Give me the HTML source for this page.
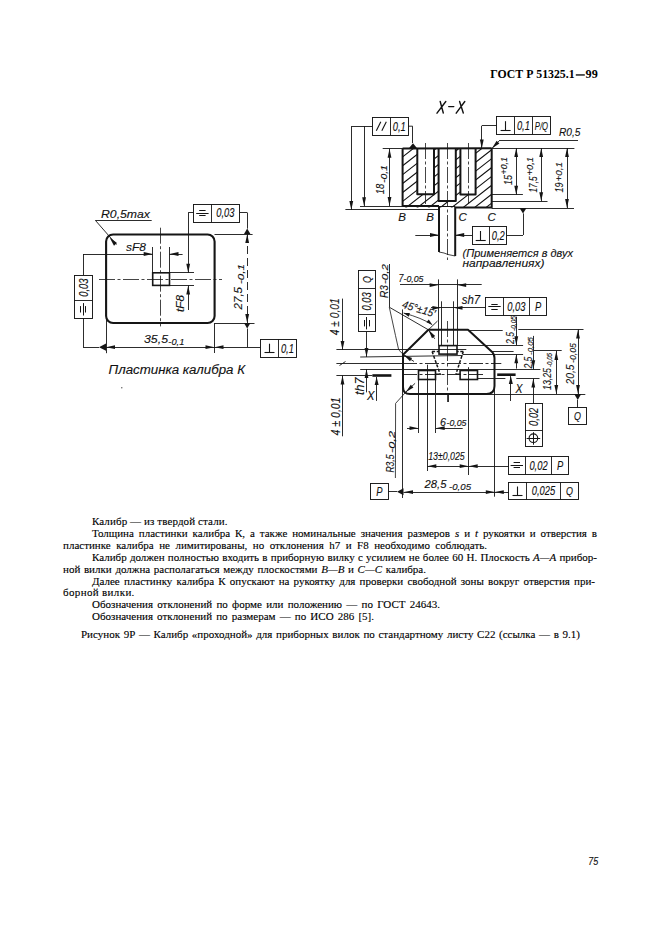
<!DOCTYPE html>
<html><head><meta charset="utf-8">
<style>
html,body{margin:0;padding:0;background:#fff;}
body{width:661px;height:936px;position:relative;overflow:hidden;}
.t{position:absolute;font-family:"Liberation Serif",serif;font-size:11px;color:#000;-webkit-text-stroke:0.12px #000;white-space:nowrap;line-height:12px;}
.j{position:absolute;font-family:"Liberation Serif",serif;font-size:11px;color:#000;-webkit-text-stroke:0.12px #000;text-align:justify;text-align-last:justify;white-space:nowrap;line-height:12px;}
.hdr{position:absolute;left:490px;top:67.5px;font-family:"Liberation Serif",serif;font-weight:bold;font-size:13.8px;color:#000;white-space:nowrap;transform-origin:0 0;transform:scaleX(0.925);}
svg{position:absolute;left:0;top:0;}
.dt{font-family:"Liberation Sans",sans-serif;font-style:italic;fill:#111;stroke:#111;stroke-width:0.12px;}
</style></head><body>

<svg width="661" height="936" viewBox="0 0 661 936">
<rect x="106.1" y="234.5" width="108.5" height="88.5" rx="7" stroke="#151515" stroke-width="2.1" fill="none"/>
<line x1="99" y1="279.5" x2="222" y2="279.5" stroke="#151515" stroke-width="0.8" stroke-dasharray="16 2.5 3 2.5"/>
<line x1="160.5" y1="227.7" x2="160.5" y2="326.4" stroke="#151515" stroke-width="0.8" stroke-dasharray="16 2.5 3 2.5"/>
<rect x="152.7" y="272.8" width="16.80000000000001" height="12.599999999999966" rx="0" stroke="#151515" stroke-width="1.6" fill="none"/>
<line x1="152.5" y1="247" x2="152.5" y2="272.8" stroke="#151515" stroke-width="0.9"/>
<line x1="169.5" y1="247" x2="169.5" y2="272.8" stroke="#151515" stroke-width="0.9"/>
<line x1="83" y1="254.5" x2="152.7" y2="254.5" stroke="#151515" stroke-width="0.9"/>
<polygon points="152.7,254 143.70,255.90 143.70,252.10" fill="#151515" stroke="none"/>
<line x1="169.5" y1="254.5" x2="182.6" y2="254.5" stroke="#151515" stroke-width="0.9"/>
<polygon points="169.5,254 178.50,252.10 178.50,255.90" fill="#151515" stroke="none"/>
<line x1="95.4" y1="220.5" x2="151.7" y2="220.5" stroke="#151515" stroke-width="0.9"/>
<line x1="95.4" y1="220.4" x2="116.5" y2="244.5" stroke="#151515" stroke-width="0.9"/>
<polygon points="109.6,237.6 117.01,243.09 113.99,245.71" fill="#151515" stroke="none"/>
<line x1="83.5" y1="254" x2="83.5" y2="275" stroke="#151515" stroke-width="0.9"/>
<rect x="74.5" y="275.5" width="18.0" height="43.0" rx="0" stroke="#151515" stroke-width="0.95" fill="none"/>
<line x1="74" y1="300.5" x2="92.7" y2="300.5" stroke="#151515" stroke-width="0.9"/>
<line x1="83.5" y1="318.2" x2="83.5" y2="347.2" stroke="#151515" stroke-width="0.9"/>
<line x1="83" y1="347.5" x2="99" y2="347.5" stroke="#151515" stroke-width="0.9"/>
<polygon points="99,347.2 106.00,343.60 106.00,350.80" fill="#151515" stroke="none"/>
<line x1="106.5" y1="318" x2="106.5" y2="353.2" stroke="#151515" stroke-width="0.9"/>
<line x1="214.5" y1="323" x2="214.5" y2="353" stroke="#151515" stroke-width="0.9"/>
<line x1="106" y1="347.5" x2="260.4" y2="347.5" stroke="#151515" stroke-width="0.9"/>
<polygon points="106,347.2 115.00,345.30 115.00,349.10" fill="#151515" stroke="none"/>
<polygon points="214.5,347.2 205.50,349.10 205.50,345.30" fill="#151515" stroke="none"/>
<polygon points="214.5,347.2 223.50,345.30 223.50,349.10" fill="#151515" stroke="none"/>
<line x1="214.5" y1="234.5" x2="252.6" y2="234.5" stroke="#151515" stroke-width="0.9"/>
<line x1="214.5" y1="323.5" x2="254.5" y2="323.5" stroke="#151515" stroke-width="0.9"/>
<line x1="247.5" y1="234" x2="247.5" y2="323" stroke="#151515" stroke-width="0.9" stroke-dasharray="8 4"/>
<polygon points="247.2,234 249.10,243.00 245.30,243.00" fill="#151515" stroke="none"/>
<polygon points="247.2,323 245.30,314.00 249.10,314.00" fill="#151515" stroke="none"/>
<polygon points="247.2,228.6 250.40,234.10 244.00,234.10" fill="#151515" stroke="none"/>
<polygon points="247.2,328.6 244.00,323.10 250.40,323.10" fill="#151515" stroke="none"/>
<line x1="247.5" y1="328.6" x2="247.5" y2="347.2" stroke="#151515" stroke-width="0.9"/>
<rect x="193.5" y="204.5" width="46.0" height="18.0" rx="0" stroke="#151515" stroke-width="0.95" fill="none"/>
<line x1="211.5" y1="204" x2="211.5" y2="222.2" stroke="#151515" stroke-width="0.9"/>
<line x1="193.6" y1="212.5" x2="188.2" y2="212.5" stroke="#151515" stroke-width="0.9"/>
<line x1="188.5" y1="212.6" x2="188.5" y2="272.8" stroke="#151515" stroke-width="0.9"/>
<polygon points="188.2,272.8 186.30,263.80 190.10,263.80" fill="#151515" stroke="none"/>
<line x1="169.5" y1="272.5" x2="194" y2="272.5" stroke="#151515" stroke-width="0.9"/>
<line x1="169.5" y1="285.5" x2="194" y2="285.5" stroke="#151515" stroke-width="0.9"/>
<line x1="188.5" y1="285.4" x2="188.5" y2="310" stroke="#151515" stroke-width="0.9"/>
<polygon points="188.2,285.4 190.10,294.40 186.30,294.40" fill="#151515" stroke="none"/>
<line x1="239.5" y1="212.5" x2="247.2" y2="212.5" stroke="#151515" stroke-width="0.9"/>
<line x1="247.5" y1="212.6" x2="247.5" y2="228.6" stroke="#151515" stroke-width="0.9"/>
<rect x="260.5" y="339.5" width="36.0" height="18.0" rx="0" stroke="#151515" stroke-width="0.95" fill="none"/>
<line x1="278.5" y1="339.1" x2="278.5" y2="357.3" stroke="#151515" stroke-width="0.9"/>
<rect x="372.5" y="117.5" width="36.0" height="18.0" rx="0" stroke="#151515" stroke-width="0.95" fill="none"/>
<line x1="390.5" y1="117.3" x2="390.5" y2="135.3" stroke="#151515" stroke-width="0.9"/>
<line x1="372.3" y1="126.5" x2="351.3" y2="126.5" stroke="#151515" stroke-width="0.9"/>
<line x1="351.5" y1="126.2" x2="351.5" y2="210" stroke="#151515" stroke-width="0.9"/>
<polygon points="351.3,210 349.40,201.00 353.20,201.00" fill="#151515" stroke="none"/>
<line x1="364.5" y1="126.2" x2="364.5" y2="206.3" stroke="#151515" stroke-width="0.9"/>
<polygon points="364.1,206.3 362.20,197.30 366.00,197.30" fill="#151515" stroke="none"/>
<line x1="408.1" y1="126.2" x2="412.6" y2="126.2" stroke="#151515" stroke-width="0.9"/>
<line x1="412.5" y1="126.2" x2="412.5" y2="143" stroke="#151515" stroke-width="0.9"/>
<polygon points="413,143.2 417.30,148.40 408.70,148.40" fill="#151515" stroke="none"/>
<line x1="382.7" y1="148.5" x2="574.4" y2="148.5" stroke="#151515" stroke-width="0.9"/>
<defs><clipPath id="hc"><path d="M402.6,148.7 H417.3 V194.3 H434 V148.7 H438.6 V201.1 H455.8 V148.7 H460.4 V194.5 H475.6 V148.7 H491.7 V207.5 H402.6 Z"/></clipPath></defs>
<path clip-path="url(#hc)" d="M400,105.5 L500,27.5 M400,114.4 L500,36.4 M400,123.3 L500,45.3 M400,132.2 L500,54.2 M400,141.1 L500,63.1 M400,150.0 L500,72.0 M400,158.9 L500,80.9 M400,167.8 L500,89.8 M400,176.7 L500,98.7 M400,185.6 L500,107.6 M400,194.5 L500,116.5 M400,203.4 L500,125.4 M400,212.3 L500,134.3 M400,221.2 L500,143.2 M400,230.1 L500,152.1 M400,239.0 L500,161.0 M400,247.9 L500,169.9 M400,256.8 L500,178.8 M400,265.7 L500,187.7 M400,274.6 L500,196.6 M400,283.5 L500,205.5 M400,292.4 L500,214.4 M400,301.3 L500,223.3 M400,310.2 L500,232.2 M400,319.1 L500,241.1 M400,328.0 L500,250.0 M400,336.9 L500,258.9 M400,345.8 L500,267.8 M400,354.7 L500,276.7 M400,363.6 L500,285.6 M400,372.5 L500,294.5 M400,381.4 L500,303.4 M400,390.3 L500,312.3 M400,399.2 L500,321.2 M400,408.1 L500,330.1 M400,417.0 L500,339.0 M400,425.9 L500,347.9 M400,434.8 L500,356.8 M400,443.7 L500,365.7 M400,452.6 L500,374.6 M400,461.5 L500,383.5 M400,470.4 L500,392.4 M400,479.3 L500,401.3 M400,488.2 L500,410.2 M400,497.1 L500,419.1" stroke="#111" stroke-width="1.1" fill="none"/>
<polyline points="402.6,148.7 402.6,206 439,206" stroke="#151515" stroke-width="2" fill="none" stroke-linejoin="round"/>
<polyline points="417.3,148.7 417.3,194.3 434,194.3 434,148.7" stroke="#151515" stroke-width="2" fill="none" stroke-linejoin="round"/>
<polyline points="438.6,148.7 438.6,201.1 455.8,201.1 455.8,148.7" stroke="#151515" stroke-width="2" fill="none" stroke-linejoin="round"/>
<polyline points="460.4,148.7 460.4,194.5 475.6,194.5 475.6,148.7" stroke="#151515" stroke-width="2" fill="none" stroke-linejoin="round"/>
<polyline points="455,207.5 491.7,207.5 491.7,148.2" stroke="#151515" stroke-width="2" fill="none" stroke-linejoin="round"/>
<line x1="402.6" y1="148.6" x2="491.7" y2="148.2" stroke="#151515" stroke-width="2"/>
<polyline points="439,206 439,252" stroke="#151515" stroke-width="2" fill="none" stroke-linejoin="round"/>
<polyline points="455.2,207 455.2,256" stroke="#151515" stroke-width="2" fill="none" stroke-linejoin="round"/>
<polyline points="439,252 444,253 448,254.5 455.2,256" stroke="#151515" stroke-width="0.8" fill="none" stroke-linejoin="round"/>
<line x1="439" y1="206.5" x2="455.2" y2="206.5" stroke="#151515" stroke-width="1"/>
<line x1="425.5" y1="143" x2="425.5" y2="204" stroke="#151515" stroke-width="0.8" stroke-dasharray="16 2.5 3 2.5"/>
<line x1="447.5" y1="143" x2="447.5" y2="260" stroke="#151515" stroke-width="0.8" stroke-dasharray="16 2.5 3 2.5"/>
<line x1="468.5" y1="143" x2="468.5" y2="204" stroke="#151515" stroke-width="0.8" stroke-dasharray="16 2.5 3 2.5"/>
<line x1="360" y1="206.5" x2="402.6" y2="206.5" stroke="#151515" stroke-width="0.9"/>
<line x1="345.4" y1="209.5" x2="438" y2="209.5" stroke="#151515" stroke-width="0.9"/>
<line x1="491.7" y1="194.5" x2="522.9" y2="194.5" stroke="#151515" stroke-width="0.9"/>
<line x1="491.7" y1="201.5" x2="547.5" y2="201.5" stroke="#151515" stroke-width="0.9"/>
<line x1="491.7" y1="208.5" x2="574" y2="208.5" stroke="#151515" stroke-width="0.9"/>
<line x1="389.5" y1="148.7" x2="389.5" y2="206" stroke="#151515" stroke-width="0.9"/>
<polygon points="389.5,148.7 391.40,157.70 387.60,157.70" fill="#151515" stroke="none"/>
<polygon points="389.5,206 387.60,197.00 391.40,197.00" fill="#151515" stroke="none"/>
<line x1="516.5" y1="148" x2="516.5" y2="194.7" stroke="#151515" stroke-width="0.9"/>
<polygon points="516.2,148 518.10,157.00 514.30,157.00" fill="#151515" stroke="none"/>
<polygon points="516.2,194.7 514.30,185.70 518.10,185.70" fill="#151515" stroke="none"/>
<line x1="541.5" y1="148" x2="541.5" y2="201.2" stroke="#151515" stroke-width="0.9"/>
<polygon points="541.2,148 543.10,157.00 539.30,157.00" fill="#151515" stroke="none"/>
<polygon points="541.2,201.2 539.30,192.20 543.10,192.20" fill="#151515" stroke="none"/>
<line x1="567.5" y1="148" x2="567.5" y2="208" stroke="#151515" stroke-width="0.9"/>
<polygon points="567,148 568.90,157.00 565.10,157.00" fill="#151515" stroke="none"/>
<polygon points="567,208 565.10,199.00 568.90,199.00" fill="#151515" stroke="none"/>
<rect x="496.5" y="116.5" width="54.0" height="18.0" rx="0" stroke="#151515" stroke-width="0.95" fill="none"/>
<line x1="514.5" y1="116.8" x2="514.5" y2="134.6" stroke="#151515" stroke-width="0.9"/>
<line x1="532.5" y1="116.8" x2="532.5" y2="134.6" stroke="#151515" stroke-width="0.9"/>
<line x1="496.7" y1="125.5" x2="481.8" y2="125.5" stroke="#151515" stroke-width="0.9"/>
<line x1="481.5" y1="125.9" x2="481.5" y2="148.6" stroke="#151515" stroke-width="0.9"/>
<polygon points="481.8,148.6 479.90,139.60 483.70,139.60" fill="#151515" stroke="none"/>
<line x1="500" y1="140.5" x2="578" y2="140.5" stroke="#151515" stroke-width="0.9"/>
<line x1="500" y1="140" x2="491.8" y2="148.6" stroke="#151515" stroke-width="0.9"/>
<polygon points="491.8,148.6 496.64,140.78 499.39,143.40" fill="#151515" stroke="none"/>
<polygon points="523,213.4 519.50,208.00 526.50,208.00" fill="#151515" stroke="none"/>
<line x1="523.5" y1="213.4" x2="523.5" y2="235" stroke="#151515" stroke-width="0.9"/>
<line x1="523" y1="235.5" x2="506.9" y2="235.5" stroke="#151515" stroke-width="0.9"/>
<rect x="472.5" y="226.5" width="34.0" height="18.0" rx="0" stroke="#151515" stroke-width="0.95" fill="none"/>
<line x1="489.5" y1="226.5" x2="489.5" y2="244.5" stroke="#151515" stroke-width="0.9"/>
<line x1="415.3" y1="235.5" x2="439" y2="235.5" stroke="#151515" stroke-width="0.9"/>
<polygon points="439,235 430.00,236.90 430.00,233.10" fill="#151515" stroke="none"/>
<line x1="472" y1="235.5" x2="455.2" y2="235.5" stroke="#151515" stroke-width="0.9"/>
<polygon points="455.2,235 464.20,233.10 464.20,236.90" fill="#151515" stroke="none"/>
<path d="M428.4,329.8 H468 L492.4,352.2 Q494.5,355 494.5,358 V386 Q494.5,394 486.5,394 H410 Q403,394 403,387 V354.7 Z" stroke="#151515" stroke-width="2" fill="none" stroke-linejoin="round"/>
<rect x="439" y="345.6" width="18" height="8.5" rx="0" stroke="#151515" stroke-width="1.6" fill="none"/>
<rect x="418.5" y="370.5" width="17.0" height="9.0" rx="0" stroke="#151515" stroke-width="1.6" fill="none"/>
<rect x="460.1" y="370.5" width="17.399999999999977" height="9.0" rx="0" stroke="#151515" stroke-width="1.6" fill="none"/>
<path d="M432.1,351.5 H439 M432.1,351.5 L440,373.7 M463.3,351.5 H457 M463.3,351.5 L455.9,374.2" stroke="#151515" stroke-width="1.5" stroke-dasharray="3 1.6" fill="none"/>
<line x1="435.5" y1="374.2" x2="441" y2="374.2" stroke="#151515" stroke-width="1.4"/>
<line x1="455.9" y1="374.2" x2="460.1" y2="374.2" stroke="#151515" stroke-width="1.4"/>
<line x1="336.4" y1="349.5" x2="466.3" y2="349.5" stroke="#151515" stroke-width="0.9"/>
<line x1="457" y1="345.5" x2="523.1" y2="345.5" stroke="#151515" stroke-width="0.9"/>
<line x1="360.2" y1="357" x2="462.7" y2="355.5" stroke="#151515" stroke-width="0.9"/>
<line x1="462.7" y1="354.5" x2="523.1" y2="354.5" stroke="#151515" stroke-width="0.9"/>
<line x1="491.8" y1="351.5" x2="513.6" y2="351.5" stroke="#151515" stroke-width="0.9"/>
<line x1="534" y1="350.5" x2="561.7" y2="350.5" stroke="#151515" stroke-width="0.9"/>
<line x1="336.4" y1="363.5" x2="403" y2="363.5" stroke="#151515" stroke-width="0.9"/>
<line x1="403" y1="363.5" x2="501.3" y2="363.5" stroke="#151515" stroke-width="0.9" stroke-dasharray="14 2.5 3 2.5"/>
<line x1="360.2" y1="369.5" x2="540.4" y2="369.5" stroke="#151515" stroke-width="0.9"/>
<line x1="336.4" y1="375.5" x2="372.4" y2="375.5" stroke="#151515" stroke-width="0.9"/>
<line x1="403" y1="374.5" x2="485.4" y2="374.5" stroke="#151515" stroke-width="0.9" stroke-dasharray="14 2.5 3 2.5"/>
<line x1="477.2" y1="378.5" x2="505.4" y2="378.5" stroke="#151515" stroke-width="0.9"/>
<line x1="516.3" y1="378.5" x2="539.5" y2="378.5" stroke="#151515" stroke-width="0.9"/>
<line x1="468" y1="330.5" x2="502.7" y2="330.5" stroke="#151515" stroke-width="0.9"/>
<line x1="518.3" y1="329.5" x2="583.5" y2="329.5" stroke="#151515" stroke-width="0.9"/>
<line x1="486" y1="394.5" x2="585.3" y2="394.5" stroke="#151515" stroke-width="0.9"/>
<line x1="342.5" y1="298.6" x2="342.5" y2="350" stroke="#151515" stroke-width="0.9"/>
<polygon points="342.5,350 340.60,341.00 344.40,341.00" fill="#151515" stroke="none"/>
<line x1="339.5" y1="365.5" x2="345.5" y2="361.5" stroke="#151515" stroke-width="0.9"/>
<line x1="342.5" y1="375.5" x2="342.5" y2="436.3" stroke="#151515" stroke-width="0.9"/>
<polygon points="342.5,375.5 344.40,384.50 340.60,384.50" fill="#151515" stroke="none"/>
<rect x="358.5" y="270.5" width="17.0" height="61.0" rx="0" stroke="#151515" stroke-width="0.95" fill="none"/>
<line x1="358.1" y1="288.5" x2="375.2" y2="288.5" stroke="#151515" stroke-width="0.9"/>
<line x1="358.1" y1="314.5" x2="375.2" y2="314.5" stroke="#151515" stroke-width="0.9"/>
<line x1="366.5" y1="331.9" x2="366.5" y2="357" stroke="#151515" stroke-width="0.9"/>
<polygon points="366.5,357 364.60,348.00 368.40,348.00" fill="#151515" stroke="none"/>
<line x1="366.5" y1="369.1" x2="366.5" y2="392.4" stroke="#151515" stroke-width="0.9"/>
<polygon points="366.5,369.1 368.40,378.10 364.60,378.10" fill="#151515" stroke="none"/>
<line x1="372.4" y1="375.5" x2="391.4" y2="375.5" stroke="#151515" stroke-width="2.6"/>
<line x1="376.5" y1="377" x2="376.5" y2="400.9" stroke="#151515" stroke-width="0.9"/>
<polygon points="376.6,377 378.60,385.00 374.60,385.00" fill="#151515" stroke="none"/>
<line x1="389.5" y1="264" x2="389.5" y2="307.2" stroke="#151515" stroke-width="0.9"/>
<line x1="389.3" y1="307.2" x2="428.4" y2="329.8" stroke="#151515" stroke-width="0.9"/>
<polyline points="389.3,307.2 395.5,335.6 398.7,349.9 403.5,354.7" stroke="#151515" stroke-width="0.8" fill="none" stroke-linejoin="round"/>
<line x1="414" y1="361.5" x2="403.5" y2="354.7" stroke="#151515" stroke-width="0.9"/>
<polygon points="403.5,354.7 412.09,358.00 410.02,361.19" fill="#151515" stroke="none"/>
<line x1="402.5" y1="309.4" x2="402.5" y2="498" stroke="#151515" stroke-width="0.9"/>
<path d="M403.6,313 Q422,318 432.2,324.7" stroke="#151515" stroke-width="0.8" fill="none"/>
<polygon points="403.6,313 409.89,313.09 408.69,316.70" fill="#151515" stroke="none"/>
<polygon points="432.2,324.7 426.37,322.32 428.81,319.40" fill="#151515" stroke="none"/>
<line x1="428.4" y1="329.8" x2="437.5" y2="321" stroke="#151515" stroke-width="0.9"/>
<line x1="434.7" y1="338.8" x2="428.4" y2="329.8" stroke="#151515" stroke-width="0.9"/>
<polygon points="428.4,329.8 435.12,336.08 432.00,338.26" fill="#151515" stroke="none"/>
<line x1="400" y1="284.5" x2="481.7" y2="284.5" stroke="#151515" stroke-width="0.9"/>
<polygon points="438.6,285.1 429.60,287.00 429.60,283.20" fill="#151515" stroke="none"/>
<polygon points="457.2,285.1 466.20,283.20 466.20,287.00" fill="#151515" stroke="none"/>
<line x1="438.5" y1="279.4" x2="438.5" y2="345.6" stroke="#151515" stroke-width="0.9"/>
<line x1="457.5" y1="279.4" x2="457.5" y2="345.6" stroke="#151515" stroke-width="0.9"/>
<line x1="431" y1="307.5" x2="486" y2="307.5" stroke="#151515" stroke-width="0.9"/>
<polygon points="441.4,307.8 432.40,309.70 432.40,305.90" fill="#151515" stroke="none"/>
<polygon points="453.5,307.8 462.50,305.90 462.50,309.70" fill="#151515" stroke="none"/>
<line x1="441.5" y1="301.3" x2="441.5" y2="345.6" stroke="#151515" stroke-width="0.9"/>
<line x1="453.5" y1="301.3" x2="453.5" y2="345.6" stroke="#151515" stroke-width="0.9"/>
<line x1="447.5" y1="321" x2="447.5" y2="402" stroke="#151515" stroke-width="0.8" stroke-dasharray="16 2.5 3 2.5"/>
<rect x="485.5" y="297.5" width="61.0" height="18.0" rx="0" stroke="#151515" stroke-width="0.95" fill="none"/>
<line x1="503.5" y1="297.3" x2="503.5" y2="315.5" stroke="#151515" stroke-width="0.9"/>
<line x1="529.5" y1="297.3" x2="529.5" y2="315.5" stroke="#151515" stroke-width="0.9"/>
<line x1="516.5" y1="316.7" x2="516.5" y2="345.2" stroke="#151515" stroke-width="0.9"/>
<polygon points="516.3,345.2 514.40,336.20 518.20,336.20" fill="#151515" stroke="none"/>
<line x1="516.5" y1="354.3" x2="516.5" y2="368.6" stroke="#151515" stroke-width="0.9"/>
<polygon points="516.3,354.3 518.20,363.30 514.40,363.30" fill="#151515" stroke="none"/>
<line x1="533.5" y1="335.9" x2="533.5" y2="369.3" stroke="#151515" stroke-width="0.9"/>
<polygon points="533.3,369.3 531.40,360.30 535.20,360.30" fill="#151515" stroke="none"/>
<line x1="533.5" y1="378.5" x2="533.5" y2="403.6" stroke="#151515" stroke-width="0.9"/>
<polygon points="533.3,378.5 535.20,387.50 531.40,387.50" fill="#151515" stroke="none"/>
<line x1="556.5" y1="350.9" x2="556.5" y2="394" stroke="#151515" stroke-width="0.9"/>
<polygon points="556.3,350.9 558.20,359.90 554.40,359.90" fill="#151515" stroke="none"/>
<polygon points="556.3,394 554.40,385.00 558.20,385.00" fill="#151515" stroke="none"/>
<line x1="578.5" y1="329.5" x2="578.5" y2="394" stroke="#151515" stroke-width="0.9"/>
<polygon points="578,329.5 579.90,338.50 576.10,338.50" fill="#151515" stroke="none"/>
<polygon points="578,394 576.10,385.00 579.90,385.00" fill="#151515" stroke="none"/>
<line x1="497.2" y1="374.7" x2="515.6" y2="374.7" stroke="#151515" stroke-width="2.6"/>
<line x1="510.5" y1="376.1" x2="510.5" y2="401" stroke="#151515" stroke-width="0.9"/>
<polygon points="510.8,376.1 512.80,384.10 508.80,384.10" fill="#151515" stroke="none"/>
<polygon points="577.7,400 574.20,394.00 581.20,394.00" fill="#151515" stroke="none"/>
<line x1="577.5" y1="400" x2="577.5" y2="407.8" stroke="#151515" stroke-width="0.9"/>
<rect x="568.5" y="407.5" width="18.0" height="17.0" rx="0" stroke="#151515" stroke-width="0.95" fill="none"/>
<rect x="525.5" y="403.5" width="17.0" height="43.0" rx="0" stroke="#151515" stroke-width="0.95" fill="none"/>
<line x1="525" y1="430.5" x2="542.7" y2="430.5" stroke="#151515" stroke-width="0.9"/>
<line x1="418.5" y1="379.5" x2="418.5" y2="433" stroke="#151515" stroke-width="0.9"/>
<line x1="435.5" y1="379.5" x2="435.5" y2="433" stroke="#151515" stroke-width="0.9"/>
<line x1="427.5" y1="364.7" x2="427.5" y2="471" stroke="#151515" stroke-width="0.9"/>
<line x1="468.5" y1="367.2" x2="468.5" y2="475" stroke="#151515" stroke-width="0.9"/>
<line x1="494.5" y1="390" x2="494.5" y2="496.7" stroke="#151515" stroke-width="0.9"/>
<line x1="448.5" y1="395" x2="448.5" y2="402" stroke="#151515" stroke-width="0.9"/>
<line x1="415.1" y1="383.3" x2="405.6" y2="392.3" stroke="#151515" stroke-width="0.9"/>
<polygon points="405.6,392.3 410.83,384.73 413.44,387.49" fill="#151515" stroke="none"/>
<polyline points="405.6,392.3 395.6,403.4 395.4,478" stroke="#151515" stroke-width="0.8" fill="none" stroke-linejoin="round"/>
<line x1="407" y1="428.5" x2="418.5" y2="428.5" stroke="#151515" stroke-width="0.9"/>
<polygon points="418.5,428.2 409.50,430.10 409.50,426.30" fill="#151515" stroke="none"/>
<line x1="435.7" y1="428.5" x2="462.7" y2="428.5" stroke="#151515" stroke-width="0.9"/>
<polygon points="435.7,428.2 444.70,426.30 444.70,430.10" fill="#151515" stroke="none"/>
<line x1="427.3" y1="466.5" x2="508.6" y2="466.5" stroke="#151515" stroke-width="0.9"/>
<polygon points="427.3,466.2 436.30,464.30 436.30,468.10" fill="#151515" stroke="none"/>
<polygon points="468.7,466.2 459.70,468.10 459.70,464.30" fill="#151515" stroke="none"/>
<polygon points="468.7,466.2 477.70,464.30 477.70,468.10" fill="#151515" stroke="none"/>
<line x1="403.5" y1="492.5" x2="509" y2="492.5" stroke="#151515" stroke-width="0.9"/>
<polygon points="404,492.1 413.00,490.20 413.00,494.00" fill="#151515" stroke="none"/>
<polygon points="494.8,492.1 485.80,494.00 485.80,490.20" fill="#151515" stroke="none"/>
<polygon points="494.8,492.1 503.80,490.20 503.80,494.00" fill="#151515" stroke="none"/>
<rect x="370.5" y="483.5" width="18.0" height="16.0" rx="0" stroke="#151515" stroke-width="0.95" fill="none"/>
<line x1="388.1" y1="491.5" x2="397" y2="491.5" stroke="#151515" stroke-width="0.9"/>
<polygon points="397,491.7 403.50,488.20 403.50,495.20" fill="#151515" stroke="none"/>
<rect x="508.5" y="456.5" width="60.0" height="18.0" rx="0" stroke="#151515" stroke-width="0.95" fill="none"/>
<line x1="525.5" y1="456.3" x2="525.5" y2="474.4" stroke="#151515" stroke-width="0.9"/>
<line x1="551.5" y1="456.3" x2="551.5" y2="474.4" stroke="#151515" stroke-width="0.9"/>
<rect x="508.5" y="482.5" width="70.0" height="17.0" rx="0" stroke="#151515" stroke-width="0.95" fill="none"/>
<line x1="526.5" y1="482.2" x2="526.5" y2="499.8" stroke="#151515" stroke-width="0.9"/>
<line x1="560.5" y1="482.2" x2="560.5" y2="499.8" stroke="#151515" stroke-width="0.9"/>
<line x1="199.20000000000002" y1="210.5" x2="205.6" y2="210.5" stroke="#151515" stroke-width="1"/>
<line x1="196.20000000000002" y1="213.5" x2="208.6" y2="213.5" stroke="#151515" stroke-width="1"/>
<line x1="199.20000000000002" y1="215.5" x2="205.6" y2="215.5" stroke="#151515" stroke-width="1"/>
<text transform="translate(225.4,217.42) scale(0.78,1)" font-size="12" text-anchor="middle" letter-spacing="0" class="dt">0,03</text>
<line x1="80.5" y1="306.1" x2="80.5" y2="312.5" stroke="#151515" stroke-width="1"/>
<line x1="83.5" y1="303.1" x2="83.5" y2="315.5" stroke="#151515" stroke-width="1"/>
<line x1="85.5" y1="306.1" x2="85.5" y2="312.5" stroke="#151515" stroke-width="1"/>
<text transform="translate(87.62,287.7) rotate(-90) scale(0.78,1)" font-size="12" text-anchor="middle" letter-spacing="0" class="dt">0,03</text>
<line x1="269.5" y1="343.7" x2="269.5" y2="352.7" stroke="#151515" stroke-width="1.1"/>
<line x1="264.5" y1="352.5" x2="274.5" y2="352.5" stroke="#151515" stroke-width="1.1"/>
<text transform="translate(287.4,352.52) scale(0.78,1)" font-size="12" text-anchor="middle" letter-spacing="0" class="dt">0,1</text>
<line x1="376.3" y1="130.8" x2="380.8" y2="121.8" stroke="#151515" stroke-width="1.1"/>
<line x1="381.8" y1="130.8" x2="386.3" y2="121.8" stroke="#151515" stroke-width="1.1"/>
<text transform="translate(399.2,130.62) scale(0.78,1)" font-size="12" text-anchor="middle" letter-spacing="0" class="dt">0,1</text>
<line x1="505.5" y1="121.2" x2="505.5" y2="130.2" stroke="#151515" stroke-width="1.1"/>
<line x1="500.6" y1="130.5" x2="510.6" y2="130.5" stroke="#151515" stroke-width="1.1"/>
<text transform="translate(523.4,130.02) scale(0.78,1)" font-size="12" text-anchor="middle" letter-spacing="0" class="dt">0,1</text>
<text transform="translate(541.4,129.66) scale(0.7,1)" font-size="11" text-anchor="middle" letter-spacing="0" class="dt">P/Q</text>
<line x1="480.5" y1="231.0" x2="480.5" y2="240.0" stroke="#151515" stroke-width="1.1"/>
<line x1="475.7" y1="240.5" x2="485.7" y2="240.5" stroke="#151515" stroke-width="1.1"/>
<text transform="translate(498.2,239.82) scale(0.78,1)" font-size="12" text-anchor="middle" letter-spacing="0" class="dt">0,2</text>
<text transform="translate(370.74,279.5) rotate(-90) scale(0.78,1)" font-size="11.5" text-anchor="middle" letter-spacing="0" class="dt">Q</text>
<text transform="translate(370.92,301.5) rotate(-90) scale(0.78,1)" font-size="12" text-anchor="middle" letter-spacing="0" class="dt">0,03</text>
<line x1="364.5" y1="320.0" x2="364.5" y2="326.4" stroke="#151515" stroke-width="1"/>
<line x1="366.5" y1="317.0" x2="366.5" y2="329.4" stroke="#151515" stroke-width="1"/>
<line x1="369.5" y1="320.0" x2="369.5" y2="326.4" stroke="#151515" stroke-width="1"/>
<line x1="491.3" y1="304.5" x2="497.7" y2="304.5" stroke="#151515" stroke-width="1"/>
<line x1="488.3" y1="306.5" x2="500.7" y2="306.5" stroke="#151515" stroke-width="1"/>
<line x1="491.3" y1="309.5" x2="497.7" y2="309.5" stroke="#151515" stroke-width="1"/>
<text transform="translate(516.3,310.92) scale(0.78,1)" font-size="12" text-anchor="middle" letter-spacing="0" class="dt">0,03</text>
<text transform="translate(538.1,310.92) scale(0.78,1)" font-size="12" text-anchor="middle" letter-spacing="0" class="dt">P</text>
<text transform="translate(538.12,416.8) rotate(-90) scale(0.78,1)" font-size="12" text-anchor="middle" letter-spacing="0" class="dt">0,02</text>
<circle cx="533.4" cy="438.2" r="4.3" stroke="#151515" stroke-width="1.1" fill="none"/>
<line x1="526.6" y1="438.5" x2="540.1999999999999" y2="438.5" stroke="#151515" stroke-width="1"/>
<line x1="533.5" y1="432.2" x2="533.5" y2="444.7" stroke="#151515" stroke-width="1"/>
<text transform="translate(577.4,420.44) scale(0.78,1)" font-size="11.5" text-anchor="middle" letter-spacing="0" class="dt">Q</text>
<line x1="513.5999999999999" y1="462.5" x2="520.0" y2="462.5" stroke="#151515" stroke-width="1"/>
<line x1="510.59999999999997" y1="465.5" x2="523.0" y2="465.5" stroke="#151515" stroke-width="1"/>
<line x1="513.5999999999999" y1="467.5" x2="520.0" y2="467.5" stroke="#151515" stroke-width="1"/>
<text transform="translate(538.5,469.62) scale(0.78,1)" font-size="12" text-anchor="middle" letter-spacing="0" class="dt">0,02</text>
<text transform="translate(560.1,469.62) scale(0.78,1)" font-size="12" text-anchor="middle" letter-spacing="0" class="dt">P</text>
<line x1="517.5" y1="486.5" x2="517.5" y2="495.5" stroke="#151515" stroke-width="1.1"/>
<line x1="512.5" y1="495.5" x2="522.5" y2="495.5" stroke="#151515" stroke-width="1.1"/>
<text transform="translate(543.5,495.32) scale(0.78,1)" font-size="12" text-anchor="middle" letter-spacing="0" class="dt">0,025</text>
<text transform="translate(569.6,495.14) scale(0.78,1)" font-size="11.5" text-anchor="middle" letter-spacing="0" class="dt">Q</text>
<text transform="translate(379.3,495.82) scale(0.78,1)" font-size="12" text-anchor="middle" letter-spacing="0" class="dt">P</text>
<text x="101" y="217.7" font-size="11.5" textLength="49" lengthAdjust="spacingAndGlyphs" class="dt">R0,5max</text>
<text x="126" y="251" font-size="11" textLength="20" lengthAdjust="spacingAndGlyphs" class="dt">sF8</text>
<text x="144" y="342.9" font-size="11.2" textLength="24" lengthAdjust="spacingAndGlyphs" class="dt">35,5</text>
<text x="168.3" y="345" font-size="8.4" textLength="16" lengthAdjust="spacingAndGlyphs" class="dt">-0,1</text>
<text x="108.5" y="373.9" font-size="12.5" textLength="136.5" lengthAdjust="spacingAndGlyphs" class="dt">Пластинка калибра К</text>
<text x="0" y="0" font-size="11" transform="translate(184.3,312) rotate(-90)" textLength="17" lengthAdjust="spacingAndGlyphs" class="dt">tF8</text>
<text x="0" y="0" font-size="11.2" transform="translate(242.4,309.4) rotate(-90)" textLength="22.4" lengthAdjust="spacingAndGlyphs" class="dt">27,5</text>
<text x="0" y="0" font-size="8.4" transform="translate(244.1,284.1) rotate(-90)" textLength="20" lengthAdjust="spacingAndGlyphs" class="dt">-0,1</text>
<path d="M437,113.2 L445.8,101.5 M440.2,101.5 L443.3,113 M448.7,106.6 H453.8 M456.2,113.2 L464.8,101.5 M459.6,101.5 L463.3,113" stroke="#111" stroke-width="1.4" stroke-linecap="round" fill="none"/>
<text x="0" y="0" font-size="11.2" transform="translate(384.3,194.2) rotate(-90)" textLength="10.5" lengthAdjust="spacingAndGlyphs" class="dt">18</text>
<text x="0" y="0" font-size="8.4" transform="translate(387.1,183.1) rotate(-90)" textLength="18" lengthAdjust="spacingAndGlyphs" class="dt">-0,1</text>
<text x="398.2" y="221.3" font-size="11.5" class="dt">B</text>
<text x="426.2" y="221.3" font-size="11.5" class="dt">B</text>
<text x="458.5" y="221.3" font-size="11.5" class="dt">C</text>
<text x="487.5" y="221.3" font-size="11.5" class="dt">C</text>
<text x="0" y="0" font-size="11.2" transform="translate(512.2,184.9) rotate(-90)" textLength="10" lengthAdjust="spacingAndGlyphs" class="dt">15</text>
<text x="0" y="0" font-size="8.4" transform="translate(507.3,174.5) rotate(-90)" textLength="17.5" lengthAdjust="spacingAndGlyphs" class="dt">+0,1</text>
<text x="0" y="0" font-size="11.2" transform="translate(536.7,192.5) rotate(-90)" textLength="16" lengthAdjust="spacingAndGlyphs" class="dt">17,5</text>
<text x="0" y="0" font-size="8.4" transform="translate(532.9,175.6) rotate(-90)" textLength="18.6" lengthAdjust="spacingAndGlyphs" class="dt">+0,1</text>
<text x="0" y="0" font-size="11.2" transform="translate(563.4,192.5) rotate(-90)" textLength="10" lengthAdjust="spacingAndGlyphs" class="dt">19</text>
<text x="0" y="0" font-size="9.5" transform="translate(561.7,181.6) rotate(-90)" textLength="19.6" lengthAdjust="spacingAndGlyphs" class="dt">+0,1</text>
<text x="559" y="136.4" font-size="11" textLength="21.5" lengthAdjust="spacingAndGlyphs" class="dt">R0,5</text>
<text x="462.5" y="257.1" font-size="11.7" textLength="110.5" lengthAdjust="spacingAndGlyphs" class="dt">(Применяется в двух</text>
<text x="462.5" y="266.5" font-size="11.7" textLength="82" lengthAdjust="spacingAndGlyphs" class="dt">направлениях)</text>
<text x="0" y="0" font-size="12" transform="translate(338.9,335.3) rotate(-90)" textLength="37" lengthAdjust="spacingAndGlyphs" class="dt">4 ± 0,01</text>
<text x="0" y="0" font-size="12" transform="translate(340,435.4) rotate(-90)" textLength="38" lengthAdjust="spacingAndGlyphs" class="dt">4 ± 0,01</text>
<text x="0" y="0" font-size="11.2" transform="translate(387.5,298) rotate(-90)" textLength="13" lengthAdjust="spacingAndGlyphs" class="dt">R3</text>
<text x="0" y="0" font-size="8.4" transform="translate(387.5,284) rotate(-90)" textLength="20" lengthAdjust="spacingAndGlyphs" class="dt">-0,2</text>
<text x="398.4" y="281.6" font-size="11.2" textLength="5" lengthAdjust="spacingAndGlyphs" class="dt">7</text>
<text x="403.5" y="282.3" font-size="8.4" textLength="20" lengthAdjust="spacingAndGlyphs" class="dt">-0,05</text>
<text x="461.7" y="304.1" font-size="13" textLength="18.5" lengthAdjust="spacingAndGlyphs" class="dt">sh7</text>
<text x="0" y="0" font-size="11" transform="translate(401.5,307.5) rotate(17)" textLength="34" lengthAdjust="spacingAndGlyphs" class="dt">45°±15′</text>
<text x="0" y="0" font-size="12" transform="translate(363.9,395) rotate(-90)" textLength="17.5" lengthAdjust="spacingAndGlyphs" class="dt">th7</text>
<text x="367" y="400.4" font-size="13.5" textLength="7.5" lengthAdjust="spacingAndGlyphs" class="dt">X</text>
<text x="515.6" y="393.1" font-size="13" textLength="7" lengthAdjust="spacingAndGlyphs" class="dt">X</text>
<text x="0" y="0" font-size="10.5" transform="translate(513.5,344) rotate(-90)" textLength="12" lengthAdjust="spacingAndGlyphs" class="dt">2,5</text>
<text x="0" y="0" font-size="7.6" transform="translate(515.5,331) rotate(-90)" textLength="15" lengthAdjust="spacingAndGlyphs" class="dt">-0,05</text>
<text x="0" y="0" font-size="10.5" transform="translate(531.5,368.6) rotate(-90)" textLength="12" lengthAdjust="spacingAndGlyphs" class="dt">2,5</text>
<text x="0" y="0" font-size="7.6" transform="translate(533,355) rotate(-90)" textLength="18" lengthAdjust="spacingAndGlyphs" class="dt">-0,05</text>
<text x="0" y="0" font-size="10.5" transform="translate(550.5,390) rotate(-90)" textLength="22" lengthAdjust="spacingAndGlyphs" class="dt">13,25</text>
<text x="0" y="0" font-size="7.6" transform="translate(552,367) rotate(-90)" textLength="14" lengthAdjust="spacingAndGlyphs" class="dt">-0,05</text>
<text x="0" y="0" font-size="11.5" transform="translate(573.8,384.5) rotate(-90)" textLength="20" lengthAdjust="spacingAndGlyphs" class="dt">20,5</text>
<text x="0" y="0" font-size="9" transform="translate(575.5,363) rotate(-90)" textLength="20" lengthAdjust="spacingAndGlyphs" class="dt">-0,05</text>
<text x="0" y="0" font-size="11.2" transform="translate(393.5,472.6) rotate(-90)" textLength="18" lengthAdjust="spacingAndGlyphs" class="dt">R3,5</text>
<text x="0" y="0" font-size="8.4" transform="translate(395,453) rotate(-90)" textLength="22" lengthAdjust="spacingAndGlyphs" class="dt">-0,2</text>
<text x="440" y="425.9" font-size="11.2" textLength="6" lengthAdjust="spacingAndGlyphs" class="dt">6</text>
<text x="446.5" y="426.2" font-size="8.4" textLength="20" lengthAdjust="spacingAndGlyphs" class="dt">-0,05</text>
<text x="428.2" y="460.4" font-size="10.5" textLength="36.5" lengthAdjust="spacingAndGlyphs" class="dt">13±0,025</text>
<text x="424.5" y="488.3" font-size="11.5" textLength="22" lengthAdjust="spacingAndGlyphs" class="dt">28,5</text>
<text x="449" y="489.6" font-size="9.5" textLength="22" lengthAdjust="spacingAndGlyphs" class="dt">-0,05</text>
<text x="588.3" y="865.4" font-size="11.5" textLength="10" lengthAdjust="spacingAndGlyphs" class="dt">75</text>
<circle cx="121.8" cy="387.7" r="0.7" fill="#555"/>
<text x="490.3" y="77.8" font-size="12.8" textLength="84.3" lengthAdjust="spacingAndGlyphs" style="font-family:'Liberation Serif',serif;font-weight:bold" fill="#000">ГОСТ Р 51325.1</text>
<rect x="575.8" y="74.3" width="9" height="1.3" fill="#000"/>
<text x="585.6" y="77.8" font-size="12.8" textLength="12.2" lengthAdjust="spacingAndGlyphs" style="font-family:'Liberation Serif',serif;font-weight:bold" fill="#000">99</text>
</svg>
<div class="t" style="left:92px;top:515px;letter-spacing:0.1px;">Калибр — из твердой стали.</div>
<div class="j" style="left:92px;width:505px;top:527px;">Толщина пластинки калибра К, а также номинальные значения размеров <i>s</i> и <i>t</i> рукоятки и отверстия в</div>
<div class="j" style="left:63px;width:424px;top:539px;">пластинке калибра не лимитированы, но отклонения h7 и F8 необходимо соблюдать.</div>
<div class="j" style="left:92px;width:505px;top:550.5px;">Калибр должен полностью входить в приборную вилку с усилием не более 60 Н. Плоскость <i>А—А</i> прибор-</div>
<div class="j" style="left:63px;width:363px;top:562.5px;">ной вилки должна располагаться между плоскостями <i>В—В</i> и <i>С—С</i> калибра.</div>
<div class="j" style="left:92px;width:503px;top:574.5px;">Далее пластинку калибра К опускают на рукоятку для проверки свободной зоны вокруг отверстия при-</div>
<div class="t" style="left:63px;top:586.3px;letter-spacing:0.35px;">борной вилки.</div>
<div class="j" style="left:92px;width:348px;top:598px;">Обозначения отклонений по форме или положению — по ГОСТ 24643.</div>
<div class="j" style="left:92px;width:282px;top:610px;">Обозначения отклонений по размерам — по ИСО 286 [5].</div>
<div class="j" style="left:81px;width:499px;top:628px;">Рисунок 9Р — Калибр «проходной» для приборных вилок по стандартному листу С22 (ссылка — в 9.1)</div>

</body></html>
